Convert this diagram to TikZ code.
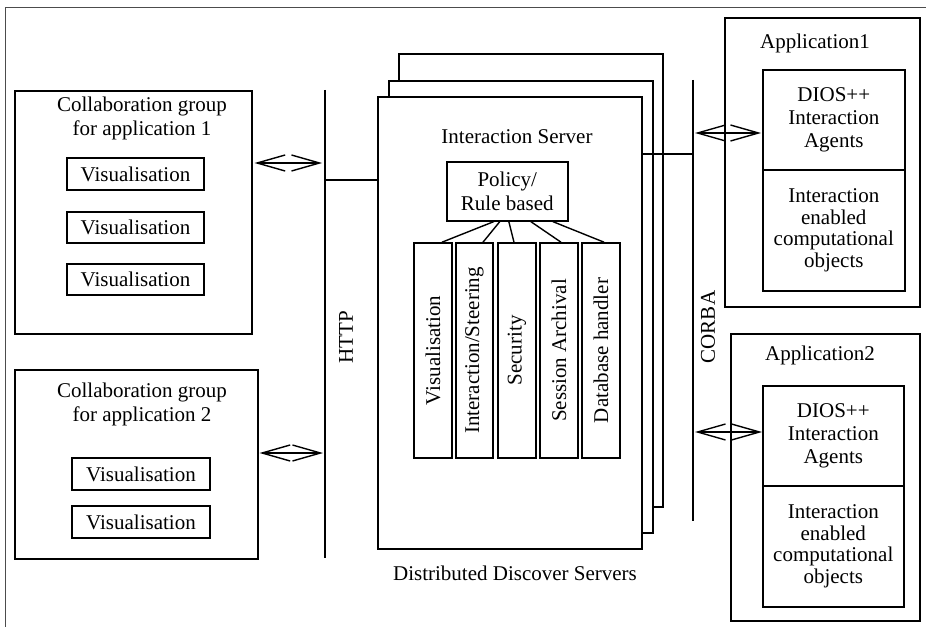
\documentclass[tikz,border=0pt]{standalone}
\usepackage{fontspec}
\setmainfont{Liberation Serif}
\usetikzlibrary{arrows.meta}
\tikzset{
  box/.style={draw, line width=1.6bp, fill=white, inner sep=0pt, anchor=north west, align=center},
  bus/.style={line width=1.6bp},
  link/.style={line width=1.4bp},
  biarrow/.style={line width=1.4bp, {Straight Barb[length=28bp,width=16bp,line width=1.4bp]}-{Straight Barb[length=28bp,width=16bp,line width=1.4bp]}},
  lbl/.style={inner sep=0pt, align=center},
}
\begin{document}
\begin{tikzpicture}[x=1bp,y=-1bp,font=\fontsize{21bp}{23.5bp}\selectfont]
\useasboundingbox (0,0) rectangle (926,627);

% page frame
\draw[line width=0.9bp, black!70] (926,7) -- (5,7) -- (5,627);

% collaboration group 1
\node[box, minimum width=237bp, minimum height=243bp] (c1) at (14,90) {};
\node[lbl] (c1t) at (142,118.5) {Collaboration group\\for application 1};
\node[box, minimum width=137bp, minimum height=32bp, anchor=center] (v1) at (135.5,174) {Visualisation};
\node[box, minimum width=137bp, minimum height=31bp, anchor=center] (v2) at (135.5,227.5) {Visualisation};
\node[box, minimum width=137bp, minimum height=31bp, anchor=center] (v3) at (135.5,279.5) {Visualisation};

% collaboration group 2
\node[box, minimum width=243bp, minimum height=189bp] (c2) at (14,369) {};
\node[lbl] (c2t) at (142,404.5) {Collaboration group\\for application 2};
\node[box, minimum width=138bp, minimum height=32bp, anchor=center] (v4) at (141,474) {Visualisation};
\node[box, minimum width=138bp, minimum height=32bp, anchor=center] (v5) at (141,522) {Visualisation};

% HTTP bus
\coordinate (httpT) at (325,90);
\coordinate (httpB) at (325,558);
\draw[bus] (httpT) -- (httpB);
\node[lbl, rotate=90] (http) at (346,337) {HTTP};

% stacked servers
\node[box, minimum width=264bp, minimum height=453bp] (s3) at (398,53) {};
\node[box, minimum width=264bp, minimum height=452bp] (s2) at (388,80) {};
\node[box, minimum width=264bp, minimum height=452bp] (s1) at (377,96) {};
\node[lbl] (ist) at (517,137) {Interaction Server};
\node[box, minimum width=121bp, minimum height=59bp] (pol) at (446,161) {Policy/\\Rule based};
\node[lbl] (dds) at (515,573) {Distributed Discover Servers};

% server modules
\foreach \n/\cx/\w/\t in {m1/433/38/Visualisation, m2/474.5/37/Interaction\slash Steering, m3/517/38/Security, m4/559/38/Session Archival, m5/601/38/Database handler}{
  \node[box, anchor=center, minimum width=\w bp, minimum height=215bp] (\n) at (\cx,350.5) {};
  \node[lbl, rotate=90] (\n t) at (\n.center) {\t};
}

% policy to modules
\draw[link] ([xshift=-13.5bp]pol.south) -- ([xshift=9bp]m1.north);
\draw[link] ([xshift=-7.5bp]pol.south) -- ([xshift=8.5bp]m2.north);
\draw[link] ([xshift=1.5bp]pol.south) -- ([xshift=-3bp]m3.north);
\draw[link] ([xshift=23.5bp]pol.south) -- ([xshift=2bp]m4.north);
\draw[link] ([xshift=45.5bp]pol.south) -- ([xshift=3bp]m5.north);

% CORBA bus
\coordinate (corT) at (693,80);
\coordinate (corB) at (693,521);
\draw[bus] (corT) -- (corB);
\node[lbl, rotate=90] (corba) at (708,327) {CORBA};

% server connections to the buses
\draw[bus] (httpT |- 0,180) -- (s1.west |- 0,180);
\draw[bus] (s1.east |- 0,154) -- (corT |- 0,154);

% application 1
\node[box, minimum width=195bp, minimum height=289bp] (a1) at (724,17) {};
\node[lbl] (a1t) at (815,43) {Application1};
\node[box, minimum width=142bp, minimum height=100bp, font=\fontsize{21bp}{23bp}\selectfont] (a1d) at (762,69) {DIOS++\\Interaction\\Agents};
\node[box, minimum width=142bp, minimum height=121bp, font=\fontsize{21bp}{21.5bp}\selectfont] (a1o) at (762,169) {Interaction\\enabled\\computational\\objects};

% application 2
\node[box, minimum width=189bp, minimum height=287bp] (a2) at (730,333) {};
\node[lbl] (a2t) at (820,355) {Application2};
\node[box, minimum width=141bp, minimum height=100bp, font=\fontsize{21bp}{23bp}\selectfont] (a2d) at (762,385) {DIOS++\\Interaction\\Agents};
\node[box, minimum width=141bp, minimum height=121bp, font=\fontsize{21bp}{21.5bp}\selectfont] (a2o) at (762,485) {Interaction\\enabled\\computational\\objects};

% bidirectional links
\draw[biarrow] ([xshift=2bp]c1.east |- 0,163) -- ([xshift=-3bp]httpT |- 0,163);
\draw[biarrow] ([xshift=1bp]c2.east |- 0,453) -- ([xshift=-2bp]httpT |- 0,453);
\draw[biarrow] ([xshift=2bp]corT |- 0,133) -- ([xshift=-1bp]a1d.west |- 0,133);
\draw[biarrow] ([xshift=2bp]corT |- 0,432) -- (a2d.west |- 0,432);
\end{tikzpicture}
\end{document}
